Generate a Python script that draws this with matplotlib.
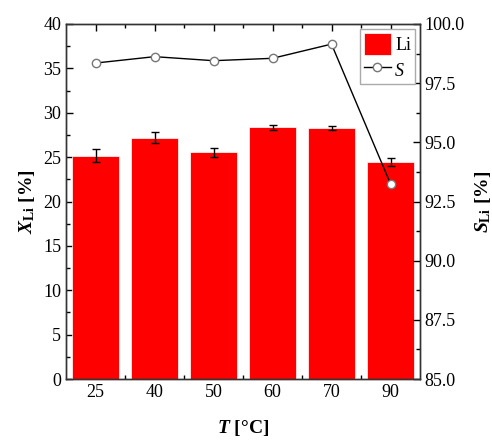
import numpy as np
import matplotlib
matplotlib.use("Agg")
import matplotlib.pyplot as plt
from matplotlib.ticker import MultipleLocator, FixedLocator

plt.rcParams['font.family'] = 'Liberation Serif'
plt.rcParams['mathtext.fontset'] = 'custom'
plt.rcParams['mathtext.rm'] = 'Liberation Serif:bold'
plt.rcParams['mathtext.it'] = 'Liberation Serif:italic:bold'

temps = ['25', '40', '50', '60', '70', '90']
x_li = [25.15, 27.2, 25.55, 28.35, 28.3, 24.5]
x_err = [0.75, 0.6, 0.5, 0.25, 0.2, 0.45]
s_li = [98.35, 98.62, 98.45, 98.55, 99.15, 93.25]

fig = plt.figure(figsize=(4.92, 4.41), dpi=100)
ax = fig.add_axes([66/492, 1-379/441, 354/492, 355/441])
pos = np.arange(len(temps))

ax.bar(pos, x_li, width=0.81, color='#ff0000', edgecolor='white', linewidth=0.5,
       yerr=x_err, capsize=3, error_kw=dict(elinewidth=1, capthick=1, ecolor='black'),
       label='Li', zorder=2)
ax.set_xlim(-0.5, 5.5)
ax.set_ylim(0, 40)
ax.set_xticks(pos)
ax.set_xticklabels(temps)
ax.xaxis.set_minor_locator(FixedLocator(pos[:-1] + 0.5))
ax.yaxis.set_major_locator(MultipleLocator(5))
ax.yaxis.set_minor_locator(MultipleLocator(2.5))
ax.tick_params(which='both', direction='in', top=True, labelsize=13, width=1)
ax.tick_params(which='major', length=5)
ax.tick_params(which='minor', length=3)
ax.set_xlabel(r'$T$ [°C]', fontsize=14, fontweight='bold', labelpad=12)
ax.set_ylabel(r'$X_{\mathrm{Li}}$ [%]', fontsize=14, fontweight='bold', labelpad=4)

ax2 = ax.twinx()
ax2.plot(pos, s_li, color='black', linewidth=1, marker='o', markersize=6,
         markerfacecolor='white', markeredgecolor='#777777', label='S', zorder=3)
ax2.set_ylim(85, 100)
ax2.yaxis.set_major_locator(MultipleLocator(2.5))
ax2.yaxis.set_minor_locator(MultipleLocator(1.25))
ax2.yaxis.set_major_formatter(matplotlib.ticker.FormatStrFormatter('%.1f'))
ax2.tick_params(which='both', direction='in', labelsize=13, width=1)
ax2.tick_params(which='major', length=5)
ax2.tick_params(which='minor', length=3)
ax2.set_ylabel(r'$S_{\mathrm{Li}}$ [%]', fontsize=14, fontweight='bold', rotation=90, labelpad=6)

for a in (ax, ax2):
    for sp in a.spines.values():
        sp.set_linewidth(1)
        sp.set_color('#333333')

h1, l1 = ax.get_legend_handles_labels()
h2, l2 = ax2.get_legend_handles_labels()
leg = ax2.legend(h1 + h2, l1 + l2, loc='upper right', fontsize=13, fancybox=False,
                 edgecolor='#aaaaaa', framealpha=1, borderaxespad=0.3,
                 handlelength=1.5, handleheight=1.5, handletextpad=0.25,
                 borderpad=0.2, labelspacing=0.2)
leg.get_texts()[1].set_fontstyle('italic')

fig.savefig('out.png', dpi=100)
